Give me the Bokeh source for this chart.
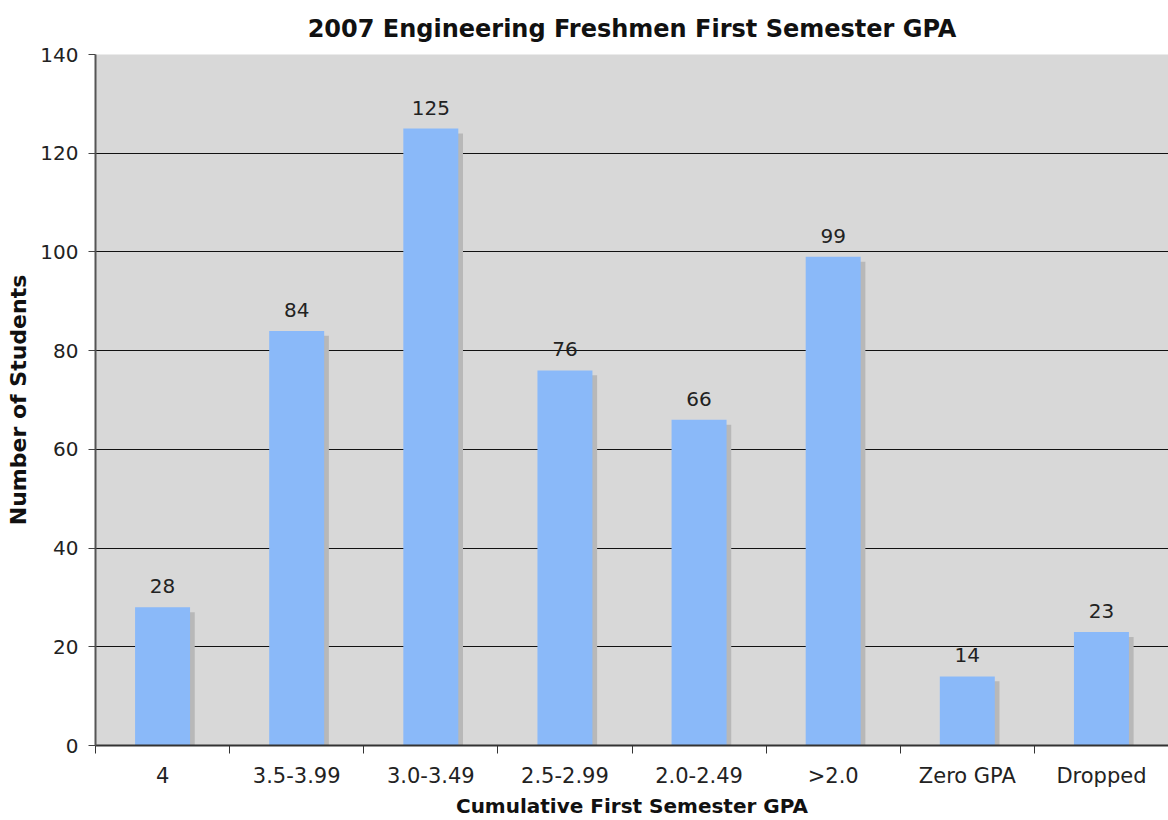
from bokeh.plotting import figure
from bokeh.models import (ColumnDataSource, FactorRange, Range1d, LinearAxis,
                          FixedTicker, LabelSet)
from bokeh.core.properties import value
from bokeh.transform import dodge
from bokeh.embed import file_html
from bokeh.resources import INLINE

# ---- data ----
categories = ["4", "3.5-3.99", "3.0-3.49", "2.5-2.99", "2.0-2.49", ">2.0", "Zero GPA", "Dropped"]
students = [28, 84, 125, 76, 66, 99, 14, 23]
y_ticks = [0, 20, 40, 60, 80, 100, 120, 140]
grid_ticks = [20, 40, 60, 80, 100, 120]

title_text = "2007 Engineering Freshmen First Semester GPA"
x_label = "Cumulative First Semester GPA"
y_label = "Number of Students"

FONT = "DejaVu Sans"
BAR = "#8ab9f9"
BG = "#d8d8d8"

source = ColumnDataSource(dict(cat=categories, count=students,
                               label=[str(v) for v in students]))

p = figure(width=1168, height=820, x_range=FactorRange(*categories),
           y_range=Range1d(0, 140), output_backend="svg", toolbar_location=None,
           x_axis_location=None, y_axis_location=None,
           min_border_left=95, min_border_right=0, min_border_top=54,
           min_border_bottom=74)

p.background_fill_color = BG
p.border_fill_color = "white"
p.outline_line_color = None

# title
p.title.text = title_text
p.title.text_font = FONT
p.title.text_font_size = "24px"
p.title.text_font_style = "bold"
p.title.text_color = "#111111"
p.title.align = "center"
p.title.vertical_align = "top"
p.title.standoff = 19

# shadow bars
p.vbar(x=dodge("cat", 0.035, range=p.x_range), top=dodge("count", -1.0),
       width=0.41, source=source, color="#b8b8b8", line_color=None)
# bars
p.vbar(x="cat", top="count", width=0.41, source=source, color=BAR, line_color=None)

labels = LabelSet(x="cat", y="count", text="label", source=source,
                  y_offset=14, text_align="center", text_baseline="bottom",
                  text_font=value(FONT), text_font_size=value("20px"),
                  text_color=value("#222222"))
p.add_layout(labels)

# y axis
yaxis = LinearAxis(ticker=FixedTicker(ticks=y_ticks))
yaxis.axis_label = y_label
yaxis.axis_label_text_font = FONT
yaxis.axis_label_text_font_size = "22px"
yaxis.axis_label_text_font_style = "bold"
yaxis.axis_label_text_color = "#111111"
yaxis.axis_label_standoff = 6
yaxis.major_label_text_font = FONT
yaxis.major_label_text_font_size = "20px"
yaxis.major_label_text_color = "#222222"
yaxis.major_label_standoff = 10
yaxis.major_tick_out = 7
yaxis.major_tick_in = 0
yaxis.minor_tick_line_color = None
yaxis.axis_line_color = "#555555"
yaxis.axis_line_width = 2
yaxis.major_tick_line_color = "#444444"
p.add_layout(yaxis, "left")

# x axis: labels at category centres, tick marks at category boundaries
n = len(categories)
centres = [i + 0.5 for i in range(n)]
bounds = [float(i) for i in range(n + 1)]
xaxis = LinearAxis(ticker=FixedTicker(ticks=centres, minor_ticks=bounds))
xaxis.major_label_overrides = {c: name for c, name in zip(centres, categories)}
xaxis.major_tick_line_color = None
xaxis.major_tick_out = 8
xaxis.major_tick_in = 0
xaxis.minor_tick_out = 8
xaxis.minor_tick_in = 0
xaxis.minor_tick_line_color = "#333333"
xaxis.axis_line_color = "#333333"
xaxis.axis_line_width = 2
xaxis.major_label_text_font = FONT
xaxis.major_label_text_font_size = "21px"
xaxis.major_label_text_color = "#222222"
xaxis.major_label_standoff = 10
xaxis.axis_label = x_label
xaxis.axis_label_text_font = FONT
xaxis.axis_label_text_font_size = "20px"
xaxis.axis_label_text_font_style = "bold"
xaxis.axis_label_text_color = "#111111"
xaxis.axis_label_standoff = 3
p.add_layout(xaxis, "below")

p.xgrid.visible = False
p.ygrid.ticker = FixedTicker(ticks=grid_ticks)
p.ygrid.grid_line_color = "#111111"
p.ygrid.grid_line_width = 1

open("out.html", "w").write(file_html(p, INLINE))
